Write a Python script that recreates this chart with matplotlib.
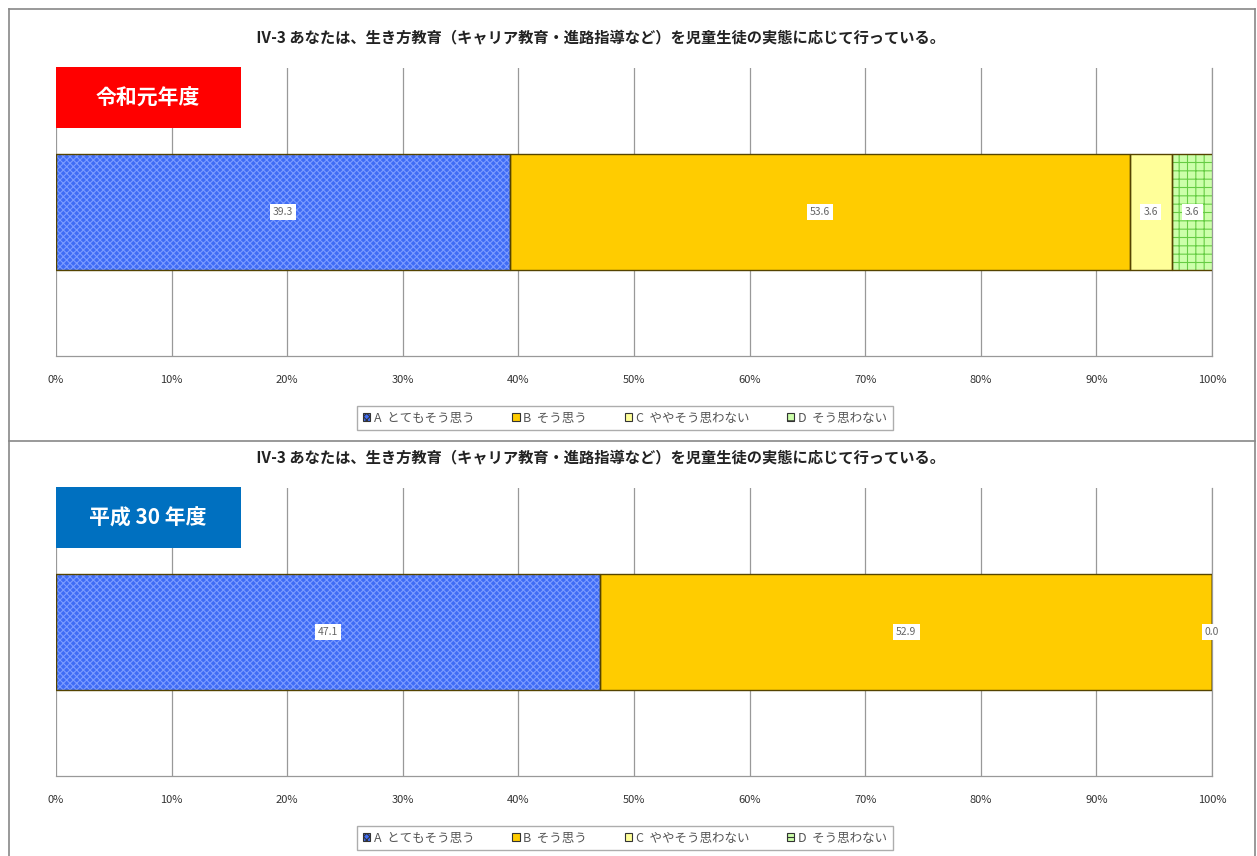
import numpy as np
import matplotlib.pyplot as plt
from matplotlib.patches import Patch, Rectangle
from matplotlib.lines import Line2D

plt.rcParams['font.family'] = ['Noto Sans CJK JP', 'DejaVu Sans']
plt.rcParams['hatch.linewidth'] = 0.8

title = 'Ⅳ-3 あなたは、生き方教育（キャリア教育・進路指導など）を児童生徒の実態に応じて行っている。'
categories = ['A とてもそう思う', 'B そう思う', 'C ややそう思わない', 'D そう思わない']
legend_labels = ['A  とてもそう思う', 'B  そう思う', 'C  ややそう思わない', 'D  そう思わない']
years = ['令和元年度', '平成 30 年度']
year_colors = ['#ff0000', '#0070c0']
values_r1 = [39.3, 53.6, 3.6, 3.6]
values_h30 = [47.1, 52.9, 0.0, 0.0]
ticks = np.arange(0, 101, 10)
tick_labels = ['%d%%' % t for t in ticks]

face = ['#3f6cf5', '#ffcc00', '#ffff99', '#ccffaa']
hatch = ['xxxxx', None, None, '++']
hatch_col = ['#7c9cff', '#ffcc00', '#ffff99', '#66cc44']

W, H = 1257, 856
fig = plt.figure(figsize=(W / 100, H / 100), dpi=100)

def fx(px):
    return px / W

def fy(py):
    return 1 - py / H

# outer frame and divider
for xs, ys in [([9, 1255], [9, 9]), ([9, 9], [9, 856]), ([1255, 1255], [9, 856]), ([9, 1255], [441, 441])]:
    fig.add_artist(Line2D([fx(x) for x in xs], [fy(y) for y in ys], color='#888888', lw=1.2))

def panel(top, vals, year, ycol):
    ax = fig.add_axes([fx(56), fy(top + 288), fx(1156), 288 / H])
    left = 0
    for i, v in enumerate(vals):
        ax.barh(0, v, left=left, height=0.4, color=face[i], hatch=hatch[i],
                edgecolor=hatch_col[i], linewidth=0, zorder=2)
        ax.barh(0, v, left=left, height=0.4, color='none', edgecolor='#554400',
                linewidth=1.0, zorder=3)
        ax.text(left + v / 2, 0, '%.1f' % v, ha='center', va='center', fontsize=7.5,
                color='#666666', zorder=4,
                bbox=dict(boxstyle='square,pad=0.3', fc='white', ec='none'))
        left += v
    ax.set_xlim(0, 100)
    ax.set_ylim(-0.5, 0.5)
    ax.set_xticks(ticks)
    ax.set_xticklabels(tick_labels, fontsize=8, color='#333333')
    ax.tick_params(axis='x', length=0, pad=14)
    ax.set_yticks([])
    for s in ['top', 'left']:
        ax.spines[s].set_visible(False)
    for s in ['bottom', 'right']:
        ax.spines[s].set_color('#999999')
        ax.spines[s].set_linewidth(0.9)
    ax.grid(axis='x', color='#999999', lw=0.9, zorder=0)
    ax.set_axisbelow(True)

    fig.text(fx(600), fy(top - 31), title, ha='center', va='center', fontsize=11,
             fontweight='bold', color='#222222')
    fig.add_artist(Rectangle((fx(56), fy(top + 60)), fx(185), 61 / H,
                             transform=fig.transFigure, fc=ycol, ec='none', zorder=5))
    fig.text(fx(148), fy(top + 30), year, ha='center', va='center', fontsize=15,
             fontweight='bold', color='white', zorder=6)

    handles = [Patch(fc=face[i], ec='#333333', hatch=hatch[i], lw=0.8) for i in range(4)]
    fig.legend(handles, legend_labels, loc='center', ncol=4,
               bbox_to_anchor=(fx(625), fy(top + 350)), fontsize=9,
               frameon=True, fancybox=False, edgecolor='#999999',
               handlelength=0.6, handleheight=0.6, handletextpad=0.3,
               columnspacing=3.0, labelcolor='#555555', borderpad=0.45,
               borderaxespad=0)

panel(68, values_r1, years[0], year_colors[0])
panel(488, values_h30, years[1], year_colors[1])

fig.savefig('out.png', dpi=100)
